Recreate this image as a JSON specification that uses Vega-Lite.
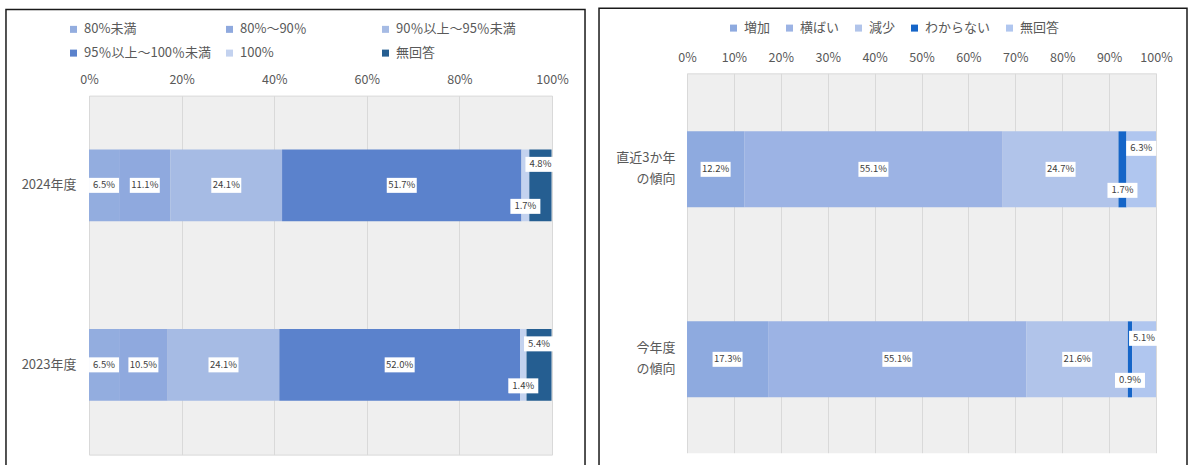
{
  "$schema": "https://vega.github.io/schema/vega-lite/v6.json",
  "background": "white",
  "padding": {"left": 4, "top": 7, "right": 0, "bottom": 0},
  "spacing": 10,
  "center": true,
  "resolve": {"scale": {"color": "independent"}, "legend": {"color": "independent"}},
  "config": {
    "font": "Noto Sans CJK JP",
    "view": {"fill": "#efefef", "stroke": "#d9d9d9", "strokeWidth": 1},
    "axis": {"labelFont": "Noto Sans CJK JP", "labelColor": "#595959", "domain": false, "ticks": false, "title": null},
    "legend": {"labelFont": "Noto Sans CJK JP", "labelColor": "#595959", "labelFontSize": 13, "symbolType": "square", "symbolSize": 49, "symbolStrokeWidth": 0, "title": null, "padding": 0, "labelOffset": 4}
  },
  "datasets": {
    "left": [
      {"item": "2024年度", "cat": "80%未満", "v": 0.065},
      {"item": "2024年度", "cat": "80%～90％", "v": 0.111},
      {"item": "2024年度", "cat": "90％以上～95％未満", "v": 0.241},
      {"item": "2024年度", "cat": "95％以上～100％未満", "v": 0.517},
      {"item": "2024年度", "cat": "100%", "v": 0.017},
      {"item": "2024年度", "cat": "無回答", "v": 0.048},
      {"item": "2023年度", "cat": "80%未満", "v": 0.065},
      {"item": "2023年度", "cat": "80%～90％", "v": 0.105},
      {"item": "2023年度", "cat": "90％以上～95％未満", "v": 0.241},
      {"item": "2023年度", "cat": "95％以上～100％未満", "v": 0.520},
      {"item": "2023年度", "cat": "100%", "v": 0.014},
      {"item": "2023年度", "cat": "無回答", "v": 0.054}
    ],
    "right": [
      {"item": "直近3か年\nの傾向", "cat": "増加", "v": 0.122},
      {"item": "直近3か年\nの傾向", "cat": "横ばい", "v": 0.551},
      {"item": "直近3か年\nの傾向", "cat": "減少", "v": 0.247},
      {"item": "直近3か年\nの傾向", "cat": "わからない", "v": 0.017},
      {"item": "直近3か年\nの傾向", "cat": "無回答", "v": 0.063},
      {"item": "今年度\nの傾向", "cat": "増加", "v": 0.173},
      {"item": "今年度\nの傾向", "cat": "横ばい", "v": 0.551},
      {"item": "今年度\nの傾向", "cat": "減少", "v": 0.216},
      {"item": "今年度\nの傾向", "cat": "わからない", "v": 0.009},
      {"item": "今年度\nの傾向", "cat": "無回答", "v": 0.051}
    ]
  },
  "hconcat": [
    {
      "width": 463,
      "height": 359,
      "resolve": {"scale": {"x": "independent", "y": "independent"}},
      "layer": [
        {
          "data": {"values": [{}]},
          "mark": {"type": "rect", "filled": false, "stroke": "#1a1a1a", "strokeWidth": 1.5},
          "encoding": {
            "x": {"datum": -0.1793, "type": "quantitative", "scale": {"domain": [0, 1], "nice": false, "zero": false}, "axis": null},
            "x2": {"datum": 1.0713},
            "y": {"datum": 1.2396, "type": "quantitative", "scale": {"domain": [0, 1], "nice": false, "zero": false}, "axis": null},
            "y2": {"datum": -0.06}
          }
        },
        {
          "data": {"name": "left"},
          "transform": [
            {"stack": "v", "groupby": ["item"], "as": ["v0", "v1"]},
            {"calculate": "(datum.v0 + datum.v1) / 2", "as": "mid"}
          ],
          "encoding": {
            "y": {
              "field": "item", "type": "nominal",
              "scale": {"domain": ["2024年度", "2023年度"], "paddingInner": 0.6, "paddingOuter": 0.3},
              "axis": {"labelFontSize": 13, "labelPadding": 13}
            }
          },
          "layer": [
            {
              "mark": {"type": "bar"},
              "encoding": {
                "x": {
                  "field": "v0", "type": "quantitative",
                  "scale": {"domain": [0, 1], "nice": false},
                  "axis": {"orient": "top", "format": "%", "values": [0, 0.2, 0.4, 0.6, 0.8, 1], "grid": true, "gridColor": "#d9d9d9", "gridWidth": 1, "labelPadding": 9, "labelFontSize": 12.5, "labelFlush": false}
                },
                "x2": {"field": "v1"},
                "color": {
                  "field": "cat", "type": "nominal",
                  "scale": {
                    "domain": ["80%未満", "80%～90％", "90％以上～95％未満", "95％以上～100％未満", "100%", "無回答"],
                    "range": ["#93addf", "#8fa9de", "#a6bbe4", "#5b82cc", "#c3d2ef", "#255e91"]
                  },
                  "legend": {"orient": "none", "legendX": -22, "legendY": -73, "direction": "horizontal", "columns": 3, "gridAlign": "all", "columnPadding": 11, "rowPadding": 10}
                }
              }
            },
            {
              "transform": [{"filter": "datum.cat !== '100%' && datum.cat !== '無回答'"}],
              "mark": {"type": "point", "shape": "M-1,-0.5H1V0.5H-1Z", "filled": true, "fill": "white", "strokeWidth": 0, "size": 900, "opacity": 1},
              "encoding": {"x": {"field": "mid", "type": "quantitative"}}
            },
            {
              "transform": [{"filter": "datum.cat !== '100%' && datum.cat !== '無回答'"}],
              "mark": {"type": "text", "fontSize": 9.5, "fill": "#404040"},
              "encoding": {"x": {"field": "mid", "type": "quantitative"}, "text": {"field": "v", "format": ".1%"}}
            },
            {
              "transform": [{"filter": "datum.cat === '無回答'"}],
              "mark": {"type": "point", "shape": "M-1,-1.9H1V-0.9H-1Z", "filled": true, "fill": "white", "strokeWidth": 0, "size": 900, "opacity": 1},
              "encoding": {"x": {"field": "mid", "type": "quantitative"}}
            },
            {
              "transform": [{"filter": "datum.cat === '無回答'"}],
              "mark": {"type": "text", "fontSize": 9.5, "fill": "#404040", "dy": -21},
              "encoding": {"x": {"field": "mid", "type": "quantitative"}, "text": {"field": "v", "format": ".1%"}}
            },
            {
              "transform": [{"filter": "datum.cat === '100%'"}],
              "mark": {"type": "point", "shape": "M-1,0.9H1V1.9H-1Z", "filled": true, "fill": "white", "strokeWidth": 0, "size": 900, "opacity": 1},
              "encoding": {"x": {"field": "mid", "type": "quantitative"}}
            },
            {
              "transform": [{"filter": "datum.cat === '100%'"}],
              "mark": {"type": "text", "fontSize": 9.5, "fill": "#404040", "dy": 21},
              "encoding": {"x": {"field": "mid", "type": "quantitative"}, "text": {"field": "v", "format": ".1%"}}
            }
          ]
        }
      ]
    },
    {
      "width": 469,
      "height": 401,
      "resolve": {"scale": {"x": "independent", "y": "independent"}},
      "layer": [
        {
          "data": {"values": [{}]},
          "mark": {"type": "rect", "filled": false, "stroke": "#1a1a1a", "strokeWidth": 1.5},
          "encoding": {
            "x": {"datum": -0.1876, "type": "quantitative", "scale": {"domain": [0, 1], "nice": false, "zero": false}, "axis": null},
            "x2": {"datum": 1.0661},
            "y": {"datum": 1.1621, "type": "quantitative", "scale": {"domain": [0, 1], "nice": false, "zero": false}, "axis": null},
            "y2": {"datum": -0.06}
          }
        },
        {
          "data": {"name": "right"},
          "transform": [
            {"stack": "v", "groupby": ["item"], "as": ["v0", "v1"]},
            {"calculate": "(datum.v0 + datum.v1) / 2", "as": "mid"}
          ],
          "encoding": {
            "y": {
              "field": "item", "type": "nominal",
              "scale": {"domain": ["直近3か年\nの傾向", "今年度\nの傾向"], "paddingInner": 0.6, "paddingOuter": 0.3553, "align": 0.4296},
              "axis": {"labelFontSize": 13, "labelPadding": 12, "labelLineHeight": 21, "labelOffset": -11, "labelExpr": "split(datum.label, '\\n')"}
            }
          },
          "layer": [
            {
              "mark": {"type": "bar"},
              "encoding": {
                "x": {
                  "field": "v0", "type": "quantitative",
                  "scale": {"domain": [0, 1], "nice": false},
                  "axis": {"orient": "top", "format": "%", "values": [0, 0.1, 0.2, 0.3, 0.4, 0.5, 0.6, 0.7, 0.8, 0.9, 1], "grid": true, "gridColor": "#d9d9d9", "gridWidth": 1, "labelPadding": 9, "labelFontSize": 12.5, "labelFlush": false, "labelOverlap": false}
                },
                "x2": {"field": "v1"},
                "color": {
                  "field": "cat", "type": "nominal",
                  "scale": {
                    "domain": ["増加", "横ばい", "減少", "わからない", "無回答"],
                    "range": ["#8eaadf", "#9cb3e4", "#b1c4ea", "#1565c8", "#b0c6ef"]
                  },
                  "legend": {"orient": "none", "legendX": 40, "legendY": -52, "direction": "horizontal", "columns": 5, "columnPadding": 12}
                }
              }
            },
            {
              "transform": [{"filter": "datum.cat !== 'わからない' && datum.cat !== '無回答'"}],
              "mark": {"type": "point", "shape": "M-1,-0.5H1V0.5H-1Z", "filled": true, "fill": "white", "strokeWidth": 0, "size": 900, "opacity": 1},
              "encoding": {"x": {"field": "mid", "type": "quantitative"}}
            },
            {
              "transform": [{"filter": "datum.cat !== 'わからない' && datum.cat !== '無回答'"}],
              "mark": {"type": "text", "fontSize": 9.5, "fill": "#404040"},
              "encoding": {"x": {"field": "mid", "type": "quantitative"}, "text": {"field": "v", "format": ".1%"}}
            },
            {
              "transform": [{"filter": "datum.cat === '無回答'"}],
              "mark": {"type": "point", "shape": "M-1,-1.9H1V-0.9H-1Z", "filled": true, "fill": "white", "strokeWidth": 0, "size": 900, "opacity": 1},
              "encoding": {"x": {"field": "mid", "type": "quantitative"}}
            },
            {
              "transform": [{"filter": "datum.cat === '無回答'"}],
              "mark": {"type": "text", "fontSize": 9.5, "fill": "#404040", "dy": -21},
              "encoding": {"x": {"field": "mid", "type": "quantitative"}, "text": {"field": "v", "format": ".1%"}}
            },
            {
              "transform": [{"filter": "datum.cat === 'わからない'"}],
              "mark": {"type": "point", "shape": "M-1,0.9H1V1.9H-1Z", "filled": true, "fill": "white", "strokeWidth": 0, "size": 900, "opacity": 1},
              "encoding": {"x": {"field": "mid", "type": "quantitative"}}
            },
            {
              "transform": [{"filter": "datum.cat === 'わからない'"}],
              "mark": {"type": "text", "fontSize": 9.5, "fill": "#404040", "dy": 21},
              "encoding": {"x": {"field": "mid", "type": "quantitative"}, "text": {"field": "v", "format": ".1%"}}
            }
          ]
        },
        {
          "data": {"values": [{}]},
          "mark": {"type": "rect", "fill": "white", "stroke": "white", "strokeWidth": 2},
          "encoding": {
            "x": {"datum": 0, "type": "quantitative", "scale": {"domain": [0, 1], "nice": false, "zero": false}, "axis": null},
            "x2": {"datum": 1},
            "y": {"datum": 0.0499, "type": "quantitative", "scale": {"domain": [0, 1], "nice": false, "zero": false}, "axis": null},
            "y2": {"datum": -0.05}
          }
        }
      ]
    }
  ]
}
